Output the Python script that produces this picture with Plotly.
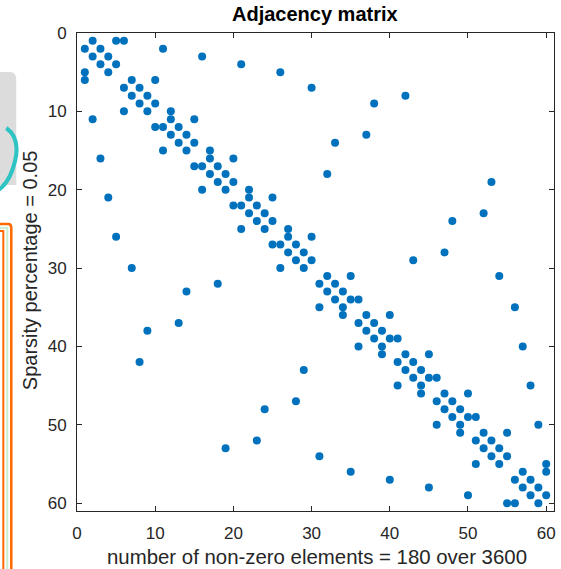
import plotly.graph_objects as go

# Adjacency matrix (60 x 60, symmetric): edge list
edge_src = [1, 2, 3, 4, 1, 6, 7, 8, 9, 6, 11, 12, 13, 14, 11, 16, 17, 18, 19, 16,
            21, 22, 23, 24, 21, 26, 27, 28, 29, 26, 31, 32, 33, 34, 31, 36, 37, 38, 39, 36,
            41, 42, 43, 44, 41, 46, 47, 48, 49, 46, 51, 52, 53, 54, 51, 56, 57, 58, 59, 56,
            1, 10, 15, 20, 25, 34, 39, 44, 49, 55,
            2, 3, 4, 5, 7, 8, 9, 13, 14, 18, 19, 23, 24, 28, 29, 31, 35, 40, 45, 50]
edge_dst = [2, 3, 4, 5, 5, 7, 8, 9, 10, 10, 12, 13, 14, 15, 15, 17, 18, 19, 20, 20,
            22, 23, 24, 25, 25, 27, 28, 29, 30, 30, 32, 33, 34, 35, 35, 37, 38, 39, 40, 40,
            42, 43, 44, 45, 45, 47, 48, 49, 50, 50, 52, 53, 54, 55, 55, 57, 58, 59, 60, 60,
            6, 12, 17, 22, 27, 36, 41, 46, 51, 60,
            11, 16, 21, 26, 30, 42, 38, 37, 33, 32, 53, 52, 48, 47, 43, 54, 56, 57, 58, 59]
n_nodes = 60
tick_vals = [0, 10, 20, 30, 40, 50, 60]

# symmetric matrix: nonzero at (i, j) and (j, i)
rows = edge_src + edge_dst
cols = edge_dst + edge_src
nnz = len(rows)
sparsity = nnz / (n_nodes * n_nodes)

W, H = 561, 569
ML, MR, MT, MB = 77, 5, 33, 58
PW, PH = W - ML - MR, H - MT - MB

def px(x):
    return (x - ML) / PW

def py(y):
    return (H - MB - y) / PH

fig = go.Figure()
fig.add_trace(go.Scatter(
    x=cols, y=rows, mode="markers",
    marker=dict(size=8, color="#0072BD", line=dict(width=0)),
    hoverinfo="skip", showlegend=False,
))

axis_common = dict(
    tickvals=tick_vals, ticks="inside", ticklen=5, tickwidth=1,
    tickcolor="#262626", showline=True, linecolor="#262626", linewidth=1,
    mirror="allticks", showgrid=False, zeroline=False,
    tickfont=dict(family="Liberation Sans, Arial", size=17, color="#262626"),
)
fig.update_xaxes(range=[0, n_nodes + 1], ticklabelstandoff=7, **axis_common)
fig.update_yaxes(range=[n_nodes + 1, 0], ticklabelstandoff=6, **axis_common)

fig.update_layout(
    width=W, height=H,
    margin=dict(l=ML, r=MR, t=MT, b=MB, pad=0),
    paper_bgcolor="white", plot_bgcolor="white",
    font=dict(family="Liberation Sans, Arial", color="#262626"),
)

fig.add_annotation(
    text="<b>Adjacency matrix</b>",
    xref="paper", yref="paper", x=px(316), y=py(14),
    xanchor="center", yanchor="middle", showarrow=False,
    font=dict(size=20, color="#000000"),
)
fig.add_annotation(
    text=f"number of non-zero elements = {nnz} over {n_nodes * n_nodes}",
    xref="paper", yref="paper", x=px(318), y=py(557),
    xanchor="center", yanchor="middle", showarrow=False,
    font=dict(size=20.4, color="#262626"),
)
fig.add_annotation(
    text=f"Sparsity percentage = {sparsity:.2f}",
    xref="paper", yref="paper", x=px(30), y=py(270),
    xanchor="center", yanchor="middle", textangle=-90, showarrow=False,
    font=dict(size=20, color="#262626"),
)

# decorative fragments visible along the left edge of the reference screenshot
fig.add_shape(type="path", xref="paper", yref="paper",
              path=f"M {px(-2)},{py(72)} L {px(10)},{py(72)} Q {px(16)},{py(72)} {px(16)},{py(80)} "
                   f"L {px(16)},{py(185)} L {px(-2)},{py(185)} Z",
              fillcolor="#dcdcdc", line=dict(width=0), layer="below")
fig.add_shape(type="path", xref="paper", yref="paper",
              path=f"M {px(6)},{py(128)} Q {px(20)},{py(138)} {px(15)},{py(160)} "
                   f"Q {px(10)},{py(182)} {px(-2)},{py(190)}",
              line=dict(color="#2ec4c4", width=4), layer="above")
fig.add_shape(type="path", xref="paper", yref="paper",
              path=f"M {px(-5)},{py(224)} L {px(8)},{py(224)} Q {px(11)},{py(224)} {px(11)},{py(228)} "
                   f"L {px(11)},{py(600)}",
              line=dict(color="#ff6a00", width=2.5), layer="above")
fig.add_shape(type="path", xref="paper", yref="paper",
              path=f"M {px(-5)},{py(228)} L {px(7)},{py(228)} L {px(7)},{py(600)}",
              line=dict(color="#c9efd2", width=2), layer="above")
fig.add_shape(type="path", xref="paper", yref="paper",
              path=f"M {px(-5)},{py(231)} L {px(3)},{py(231)} L {px(3)},{py(600)}",
              line=dict(color="#ff6a00", width=2), layer="above")

fig.write_html("out.html")
